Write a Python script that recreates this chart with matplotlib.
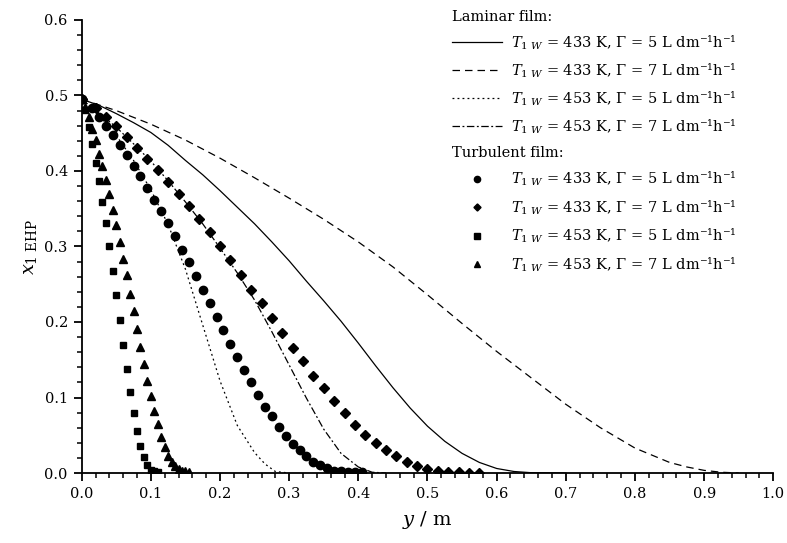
import matplotlib
matplotlib.use("Agg")
import matplotlib.pyplot as plt
from matplotlib.ticker import MultipleLocator

plt.rcParams['font.family'] = ['DejaVu Serif']
plt.rcParams['mathtext.fontset'] = 'dejavuserif'

# laminar film (lines)
x_lam_433_5 = [0, 0.025, 0.05, 0.075, 0.1, 0.125, 0.15, 0.175, 0.2, 0.225, 0.25, 0.275, 0.3, 0.325,
               0.35, 0.375, 0.4, 0.425, 0.45, 0.475, 0.5, 0.525, 0.55, 0.575, 0.6, 0.625, 0.65, 0.7]
y_lam_433_5 = [0.495, 0.487, 0.476, 0.464, 0.451, 0.434, 0.414, 0.395, 0.374, 0.352, 0.330, 0.306, 0.281, 0.254,
               0.228, 0.201, 0.172, 0.142, 0.113, 0.086, 0.062, 0.042, 0.026, 0.014, 0.006, 0.002, 0.0004, 0.0]

x_lam_433_7 = [0, 0.05, 0.1, 0.15, 0.2, 0.25, 0.3, 0.35, 0.4, 0.45, 0.5, 0.55, 0.6, 0.65, 0.7,
               0.75, 0.8, 0.85, 0.875, 0.9, 0.925, 0.95]
y_lam_433_7 = [0.495, 0.480, 0.462, 0.441, 0.417, 0.391, 0.364, 0.336, 0.306, 0.273, 0.236, 0.198, 0.161, 0.126, 0.091,
               0.060, 0.033, 0.014, 0.008, 0.0035, 0.001, 0.0]

x_lam_453_5 = [0, 0.025, 0.05, 0.075, 0.1, 0.125, 0.15, 0.175, 0.2, 0.225, 0.25, 0.265, 0.28, 0.3]
y_lam_453_5 = [0.495, 0.474, 0.447, 0.414, 0.375, 0.329, 0.270, 0.196, 0.122, 0.063, 0.027, 0.012, 0.002, 0.0]

x_lam_453_7 = [0, 0.025, 0.05, 0.075, 0.1, 0.125, 0.15, 0.175, 0.2, 0.225, 0.25, 0.275, 0.3, 0.325,
               0.35, 0.375, 0.4, 0.42, 0.44]
y_lam_453_7 = [0.495, 0.477, 0.458, 0.436, 0.413, 0.387, 0.359, 0.330, 0.298, 0.265, 0.229, 0.187, 0.143, 0.099,
               0.058, 0.026, 0.008, 0.001, 0.0]

# turbulent film (markers)
x_tur_433_5 = [0, 0.015, 0.025, 0.035, 0.045, 0.055, 0.065, 0.075, 0.085, 0.095, 0.105, 0.115, 0.125, 0.135,
               0.145, 0.155, 0.165, 0.175, 0.185, 0.195, 0.205, 0.215, 0.225, 0.235, 0.245, 0.255, 0.265,
               0.275, 0.285, 0.295, 0.305, 0.315, 0.325, 0.335, 0.345, 0.355, 0.365, 0.375, 0.385, 0.395, 0.405]
y_tur_433_5 = [0.495, 0.484, 0.472, 0.460, 0.448, 0.434, 0.421, 0.407, 0.393, 0.378, 0.362, 0.347, 0.331, 0.314,
               0.296, 0.279, 0.261, 0.243, 0.225, 0.207, 0.189, 0.171, 0.154, 0.136, 0.120, 0.103, 0.088,
               0.075, 0.061, 0.049, 0.039, 0.030, 0.022, 0.015, 0.010, 0.006, 0.003, 0.002, 0.0015, 0.001, 0.001]

x_tur_433_7 = [0, 0.02, 0.035, 0.05, 0.065, 0.08, 0.095, 0.11, 0.125, 0.14, 0.155, 0.17, 0.185, 0.2,
               0.215, 0.23, 0.245, 0.26, 0.275, 0.29, 0.305, 0.32, 0.335, 0.35, 0.365, 0.38, 0.395,
               0.41, 0.425, 0.44, 0.455, 0.47, 0.485, 0.5, 0.515, 0.53, 0.545, 0.56, 0.575]
y_tur_433_7 = [0.495, 0.484, 0.472, 0.459, 0.445, 0.431, 0.416, 0.401, 0.385, 0.370, 0.353, 0.336, 0.319, 0.301,
               0.282, 0.262, 0.243, 0.225, 0.205, 0.185, 0.166, 0.148, 0.129, 0.112, 0.095, 0.079, 0.064,
               0.051, 0.040, 0.030, 0.022, 0.015, 0.009, 0.005, 0.0026, 0.0012, 0.0007, 0.0004, 0.0002]

x_tur_453_5 = [0, 0.005, 0.01, 0.015, 0.02, 0.025, 0.03, 0.035, 0.04, 0.045, 0.05, 0.055, 0.06, 0.065,
               0.07, 0.075, 0.08, 0.085, 0.09, 0.095, 0.1, 0.105, 0.11]
y_tur_453_5 = [0.495, 0.481, 0.458, 0.436, 0.411, 0.387, 0.359, 0.331, 0.301, 0.268, 0.236, 0.203, 0.170, 0.138,
               0.107, 0.080, 0.056, 0.036, 0.021, 0.010, 0.004, 0.002, 0.001]

x_tur_453_7 = [0, 0.005, 0.01, 0.015, 0.02, 0.025, 0.03, 0.035, 0.04, 0.045, 0.05, 0.055, 0.06, 0.065,
               0.07, 0.075, 0.08, 0.085, 0.09, 0.095, 0.1, 0.105, 0.11, 0.115, 0.12, 0.125, 0.13, 0.135,
               0.14, 0.145, 0.15, 0.155]
y_tur_453_7 = [0.495, 0.485, 0.472, 0.456, 0.441, 0.423, 0.407, 0.388, 0.369, 0.348, 0.328, 0.306, 0.283, 0.262,
               0.237, 0.215, 0.191, 0.167, 0.144, 0.122, 0.102, 0.082, 0.065, 0.048, 0.035, 0.023, 0.015, 0.009,
               0.005, 0.003, 0.002, 0.001]

labels = [r"$T_{1\ W}$ = 433 K, Γ = 5 L dm⁻¹h⁻¹",
          r"$T_{1\ W}$ = 433 K, Γ = 7 L dm⁻¹h⁻¹",
          r"$T_{1\ W}$ = 453 K, Γ = 5 L dm⁻¹h⁻¹",
          r"$T_{1\ W}$ = 453 K, Γ = 7 L dm⁻¹h⁻¹"]

fig = plt.figure(figsize=(7.87, 5.43), dpi=100)
ax = fig.add_axes([0.1038, 0.1289, 0.8788, 0.8343])

lw = 0.9
l1, = ax.plot(x_lam_433_5, y_lam_433_5, color='black', lw=lw, ls='-')
l2, = ax.plot(x_lam_433_7, y_lam_433_7, color='black', lw=lw, ls=(0, (6, 4)))
l3, = ax.plot(x_lam_453_5, y_lam_453_5, color='black', lw=lw, ls=(0, (1.5, 2.5)))
l4, = ax.plot(x_lam_453_7, y_lam_453_7, color='black', lw=lw, ls=(0, (6, 2, 1.5, 2)))

m1, = ax.plot(x_tur_433_5, y_tur_433_5, 'o', color='black', ms=6, ls='none')
m2, = ax.plot(x_tur_433_7, y_tur_433_7, 'D', color='black', ms=4.8, ls='none')
m3, = ax.plot(x_tur_453_5, y_tur_453_5, 's', color='black', ms=5, ls='none')
m4, = ax.plot(x_tur_453_7, y_tur_453_7, '^', color='black', ms=6, ls='none')

ax.set_xlim(0, 1.0)
ax.set_ylim(0, 0.6)
ax.xaxis.set_major_locator(MultipleLocator(0.1))
ax.xaxis.set_minor_locator(MultipleLocator(0.02))
ax.yaxis.set_major_locator(MultipleLocator(0.1))
ax.yaxis.set_minor_locator(MultipleLocator(0.02))
ax.xaxis.set_major_formatter(plt.FormatStrFormatter('%.1f'))
ax.yaxis.set_major_formatter(plt.FormatStrFormatter('%.1f'))
ax.tick_params(which='major', direction='out', length=6, width=1.3, labelsize=10.5, pad=4)
ax.tick_params(which='minor', direction='out', length=3.5, width=1.1)
for s in ['top', 'right']:
    ax.spines[s].set_visible(False)
for s in ['left', 'bottom']:
    ax.spines[s].set_linewidth(1.3)

ax.set_xlabel(r"$y$ / m", fontsize=14, labelpad=6)
ax.set_ylabel(r"$x_{1\ \mathrm{EHP}}$", fontsize=14, labelpad=4)

leg1 = ax.legend([l1, l2, l3, l4], labels, title="Laminar film:", loc='upper left',
                 bbox_to_anchor=(0.536, 1.023), frameon=False, fontsize=10.5, title_fontsize=10.5,
                 alignment='left', handlelength=3.4, handletextpad=0.6, labelspacing=0.66,
                 borderpad=0, borderaxespad=0)
ax.add_artist(leg1)
leg2 = ax.legend([m1, m2, m3, m4], labels, title="Turbulent film:", loc='upper left',
                 bbox_to_anchor=(0.536, 0.722), frameon=False, fontsize=10.5, title_fontsize=10.5,
                 alignment='left', handlelength=3.4, handletextpad=0.6, labelspacing=0.69,
                 borderpad=0, borderaxespad=0, markerscale=0.75)

fig.savefig("out.png", dpi=100)
